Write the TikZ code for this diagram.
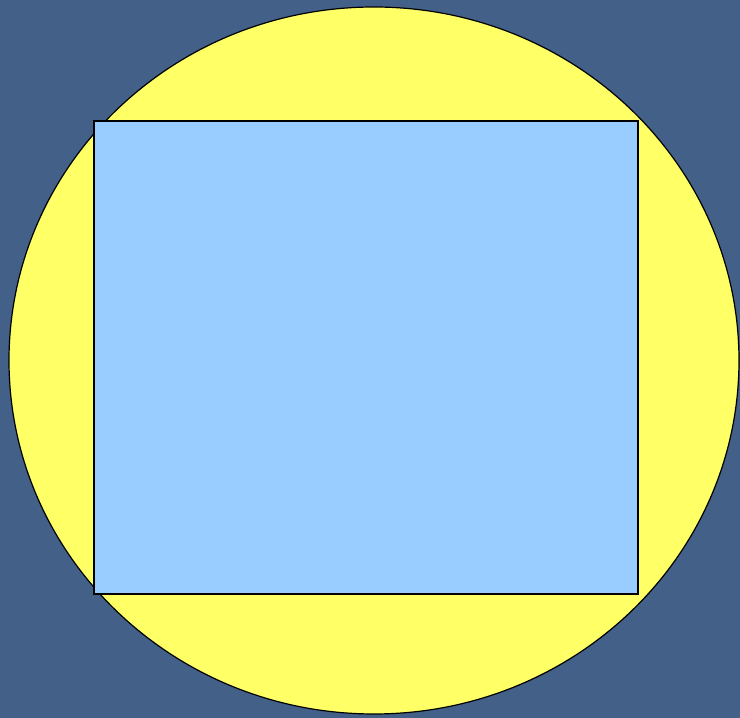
\documentclass[tikz,border=0pt]{standalone}
\usetikzlibrary{shapes.geometric, positioning}
\definecolor{slateblue}{RGB}{66, 96, 136}
\definecolor{sunyellow}{RGB}{255, 255, 102}
\definecolor{skyblue}{RGB}{153, 204, 255}

\begin{document}
\begin{tikzpicture}[
  x=1pt, y=1pt,
  disc/.style={ellipse, draw=black, fill=sunyellow, line width=1.2pt, inner sep=0pt},
  panel/.style={rectangle, draw=black, fill=skyblue, line width=1.2pt, inner sep=0pt}
]
  % background
  \fill[slateblue] (0, 0) rectangle (740, 718);
  \useasboundingbox (0, 0) rectangle (740, 718);
  \node[disc, minimum width=730pt, minimum height=707pt] (sun) at (374, 357.5) {};
  \node[panel, minimum width=544pt, minimum height=473pt] (square) at (366, 360.5) {};
\end{tikzpicture}
\end{document}
